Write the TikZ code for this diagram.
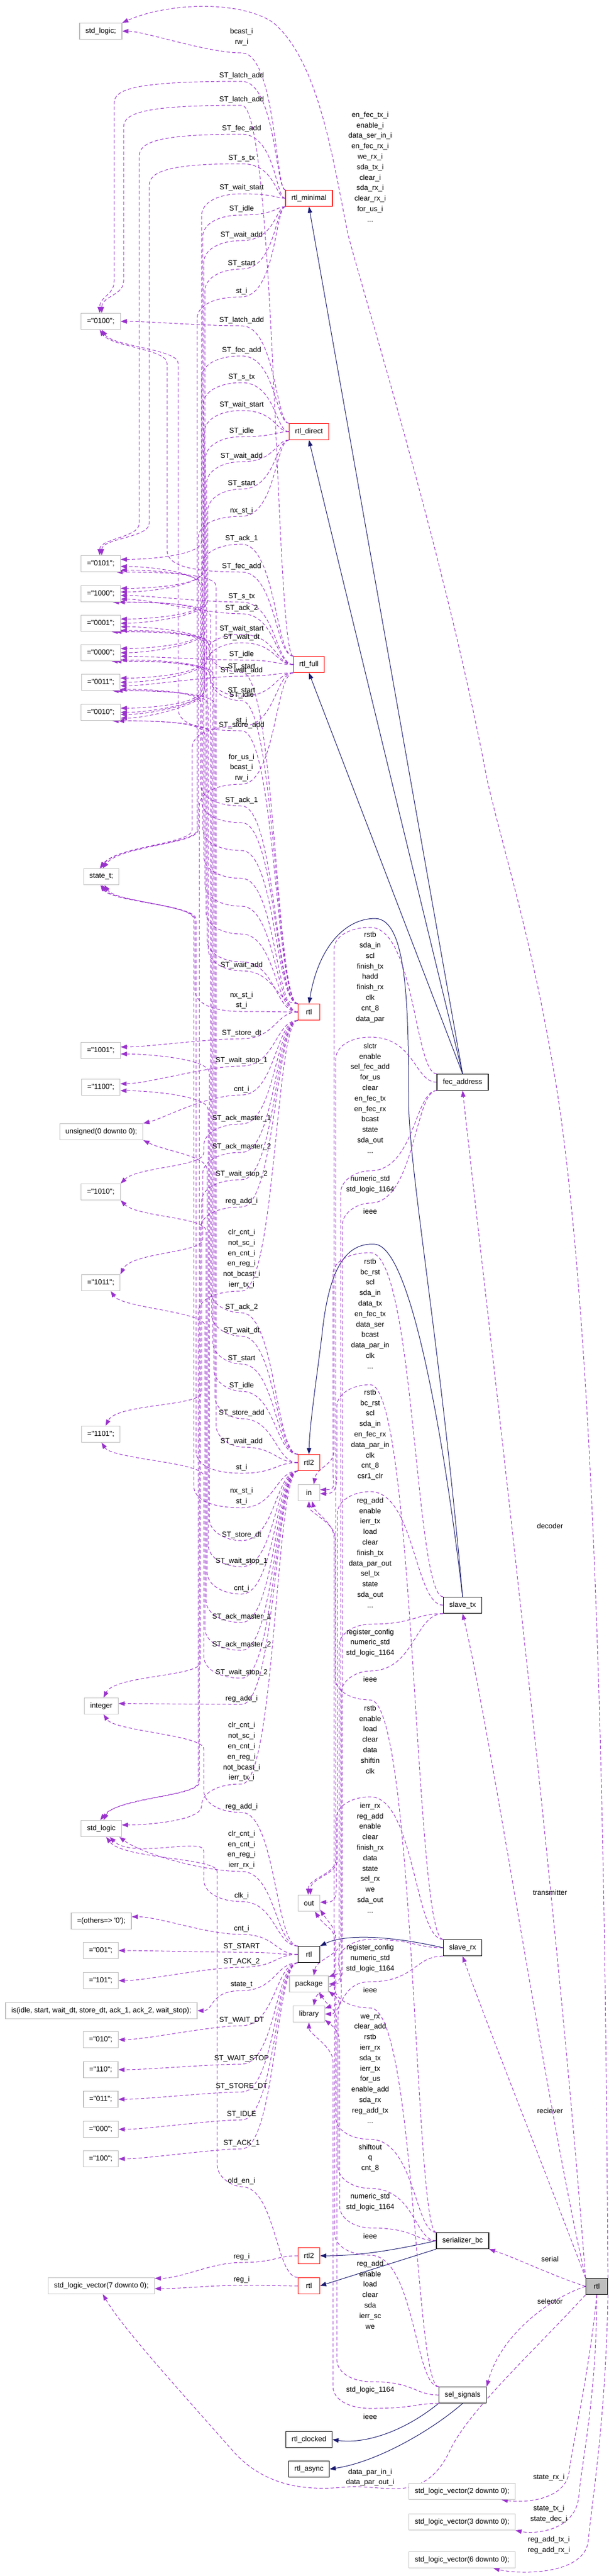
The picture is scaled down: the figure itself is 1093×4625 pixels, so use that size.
\documentclass[tikz,border=0pt]{standalone}
\usepackage{fontspec}
\newfontfamily\dfont{Liberation Sans}
\usetikzlibrary{arrows.meta,calc}
\definecolor{dpurple}{RGB}{154,50,205}
\definecolor{dnavy}{RGB}{25,25,112}
\definecolor{boxgrey}{RGB}{191,191,191}
\pgfdeclarelayer{bg}
\pgfsetlayers{bg,main}
\newcommand\boxfont{\dfont\fontsize{13pt}{15pt}\selectfont}
\newcommand\lblfont{\dfont\fontsize{13pt}{18.8pt}\selectfont}
\tikzset{
  nbox/.style={line width=1.2pt, minimum height=29pt, minimum width=39pt, inner xsep=10.5pt, inner ysep=0pt, font=\boxfont, fill=white},
  gbox/.style={nbox, draw=boxgrey},
  rbox/.style={nbox, draw=red},
  kbox/.style={nbox, draw=black},
  fbox/.style={nbox, draw=black, fill=boxgrey},
  dep/.style={draw=dpurple, line width=1pt, dash pattern=on 6pt off 4pt, -{Triangle[length=11pt,width=8pt]}},
  inh/.style={draw=dnavy, line width=1pt, -{Triangle[length=11pt,width=8pt]}},
  lbl/.style={font=\lblfont, align=center, inner sep=0pt},
}
% left edge: source, capY, bundle x, target, target y, approach
\newcommand\ledge[6]{%
  \pgfmathsetmacro\edgA{abs(#5-#2)}%
  \ifdim\edgA pt<80pt
    \draw[dep] (#1) .. controls (#1 -| lx) and (495,#2) .. (434,#2) .. controls (#3,#2) and ($(#4)+(#6)$) .. (#4);%
  \else
    \pgfmathsetmacro\edgS{(#5>#2)?1:-1}%
    \pgfmathsetmacro\edgYa{#2+\edgS*40}%
    \pgfmathsetmacro\edgYb{#5-\edgS*40}%
    \pgfmathsetmacro\edgYaa{#2+\edgS*15}%
    \pgfmathsetmacro\edgYbb{#5-\edgS*15}%
    \draw[dep] (#1) .. controls (#1 -| lx) and (495,#2) .. (434,#2) .. controls (#3+30,#2) and (#3,\edgYaa) .. (#3,\edgYa) -- (#3,\edgYb) .. controls (#3,\edgYbb) and ($(#4)+(#6)$) .. (#4);%
  \fi}
\newcommand\redge[6]{%
  \pgfmathsetmacro\edgA{abs(#5-#2)}%
  \ifdim\edgA pt<80pt
    \draw[dep] (#1) .. controls (#1 -| rx) and (745,#2) .. (665,#2) .. controls (#3,#2) and ($(#4)+(#6)$) .. (#4);%
  \else
    \pgfmathsetmacro\edgS{(#5>#2)?1:-1}%
    \pgfmathsetmacro\edgYa{#2+\edgS*40}%
    \pgfmathsetmacro\edgYb{#5-\edgS*40}%
    \pgfmathsetmacro\edgYaa{#2+\edgS*15}%
    \pgfmathsetmacro\edgYbb{#5-\edgS*15}%
    \draw[dep] (#1) .. controls (#1 -| rx) and (745,#2) .. (665,#2) .. controls (#3+30,#2) and (#3,\edgYaa) .. (#3,\edgYa) -- (#3,\edgYb) .. controls (#3,\edgYbb) and ($(#4)+(#6)$) .. (#4);%
  \fi}
\begin{document}
\begin{tikzpicture}[x=1pt,y=-1pt]
\useasboundingbox (0,0) rectangle (1093,4625);
\coordinate (lx) at (495,0);
\coordinate (rx) at (745,0);
% ---------- left column ----------
\node[gbox] (stdlogicA) at (181,56) {std\_logic;};
\node[gbox] (c0100) at (181,577) {="0100";};
\node[gbox] (c0101) at (181,1012) {="0101";};
\node[gbox] (c1000) at (181,1066) {="1000";};
\node[gbox] (c0001) at (181,1119) {="0001";};
\node[gbox] (c0000) at (181,1172) {="0000";};
\node[gbox] (c0011) at (181,1225) {="0011";};
\node[gbox] (c0010) at (181,1279) {="0010";};
\node[gbox] (statet) at (182,1574) {state\_t;};
\node[gbox] (c1001) at (181,1886) {="1001";};
\node[gbox] (c1100) at (181,1952) {="1100";};
\node[gbox] (unsig) at (182,2032) {unsigned(0 downto 0);};
\node[gbox] (c1010) at (181,2140) {="1010";};
\node[gbox] (c1011) at (181,2303) {="1011";};
\node[gbox] (c1101) at (181,2575) {="1101";};
\node[gbox] (integer) at (182,3063) {integer};
\node[gbox] (stdlogic) at (182,3283) {std\_logic};
\node[gbox] (others) at (182,3449) {=(others=> '0');};
\node[gbox] (c001) at (181,3502) {="001";};
\node[gbox] (c101) at (181,3556) {="101";};
\node[gbox] (isnode) at (182,3610) {is(idle, start, wait\_dt, store\_dt, ack\_1, ack\_2, wait\_stop);};
\node[gbox] (c010) at (181,3662) {="010";};
\node[gbox] (c110) at (181,3716) {="110";};
\node[gbox] (c011) at (181,3769) {="011";};
\node[gbox] (c000) at (181,3823) {="000";};
\node[gbox] (c100) at (181,3876) {="100";};
\node[gbox] (slv7) at (182,4104) {std\_logic\_vector(7 downto 0);};
% ---------- middle column ----------
\node[rbox] (rtlmin) at (555,356) {rtl\_minimal};
\node[rbox] (rtldir) at (555,775) {rtl\_direct};
\node[rbox] (rtlfull) at (555,1193) {rtl\_full};
\node[rbox] (rtlA) at (555,1817) {rtl};
\node[rbox] (rtl2A) at (555,2626) {rtl2};
\node[gbox] (innode) at (555,2680) {in};
\node[gbox] (outnode) at (555,3417) {out};
\node[kbox] (rtlB) at (555,3509) {rtl};
\node[gbox] (package) at (555,3562) {package};
\node[gbox] (library) at (555,3616) {library};
\node[rbox] (rtl2B) at (555,4050) {rtl2};
\node[rbox] (rtlC) at (555,4104) {rtl};
\node[kbox] (rtlclk) at (555,4380) {rtl\_clocked};
\node[kbox] (rtlasync) at (555,4433) {rtl\_async};
% ---------- right column ----------
\node[kbox] (fec) at (831,1943) {fec\_address};
\node[kbox] (stx) at (831,2882) {slave\_tx};
\node[kbox] (srx) at (831,3497) {slave\_rx};
\node[kbox] (ser) at (831,4023) {serializer\_bc};
\node[kbox] (sel) at (831,4300) {sel\_signals};
\node[gbox] (slv2) at (830,4473) {std\_logic\_vector(2 downto 0);};
\node[gbox] (slv3) at (830,4528) {std\_logic\_vector(3 downto 0);};
\node[gbox] (slv6) at (830,4596) {std\_logic\_vector(6 downto 0);};
\node[fbox] (rtlF) at (1072,4105) {rtl};
% ---------- left labels ----------
\node[lbl] (l1) at (434,66.5) {bcast\_i\\rw\_i};
\node[lbl] (l2) at (434,136) {ST\_latch\_add};
\node[lbl] (l3) at (434,179) {ST\_latch\_add};
\node[lbl] (l4) at (434,231) {ST\_fec\_add};
\node[lbl] (l5) at (434,284) {ST\_s\_tx};
\node[lbl] (l6) at (434,337) {ST\_wait\_start};
\node[lbl] (l7) at (434,375) {ST\_idle};
\node[lbl] (l8) at (434,422) {ST\_wait\_add};
\node[lbl] (l9) at (434,473) {ST\_start};
\node[lbl] (l10) at (434,523) {st\_i};
\node[lbl] (l11) at (434,575) {ST\_latch\_add};
\node[lbl] (l12) at (434,629) {ST\_fec\_add};
\node[lbl] (l13) at (434,677) {ST\_s\_tx};
\node[lbl] (l14) at (434,727) {ST\_wait\_start};
\node[lbl] (l15) at (434,774) {ST\_idle};
\node[lbl] (l16) at (434,819) {ST\_wait\_add};
\node[lbl] (l17) at (434,868) {ST\_start};
\node[lbl] (l18) at (434,917) {nx\_st\_i};
\node[lbl] (l19) at (434,967) {ST\_ack\_1};
\node[lbl] (l20) at (434,1017) {ST\_fec\_add};
\node[lbl] (l21) at (434,1071) {ST\_s\_tx};
\node[lbl] (l22) at (434,1092) {ST\_ack\_2};
\node[lbl] (l23) at (434,1129) {ST\_wait\_start};
\node[lbl] (l24) at (434,1144) {ST\_wait\_dt};
\node[lbl] (l25) at (434,1175) {ST\_idle};
\node[lbl] (l26) at (434,1197) {ST\_start};
\node[lbl] (l27) at (434,1204) {ST\_wait\_add};
\node[lbl] (l28) at (434,1240) {ST\_start};
\node[lbl] (l29) at (434,1248) {ST\_idle};
\node[lbl] (l30) at (434,1294) {st\_i};
\node[lbl] (l31) at (434,1302) {ST\_store\_add};
\node[lbl] (l32) at (434,1378.5) {for\_us\_i\\bcast\_i\\rw\_i};
\node[lbl] (l33) at (434,1437) {ST\_ack\_1};
\node[lbl] (l34) at (434,1733) {ST\_wait\_add};
\node[lbl] (l35) at (434,1796) {nx\_st\_i\\st\_i};
\node[lbl] (l36) at (434,1855) {ST\_store\_dt};
\node[lbl] (l37) at (434,1904) {ST\_wait\_stop\_1};
\node[lbl] (l38) at (434,1956) {cnt\_i};
\node[lbl] (l39) at (434,2008) {ST\_ack\_master\_1};
\node[lbl] (l40) at (434,2059) {ST\_ack\_master\_2};
\node[lbl] (l41) at (434,2108) {ST\_wait\_stop\_2};
\node[lbl] (l42) at (434,2157) {reg\_add\_i};
\node[lbl] (l43) at (434,2260) {clr\_cnt\_i\\not\_sc\_i\\en\_cnt\_i\\en\_reg\_i\\not\_bcast\_i\\ierr\_tx\_i};
\node[lbl] (l44) at (434,2347) {ST\_ack\_2};
\node[lbl] (l45) at (434,2389) {ST\_wait\_dt};
\node[lbl] (l46) at (434,2439) {ST\_start};
\node[lbl] (l47) at (434,2488) {ST\_idle};
\node[lbl] (l48) at (434,2537) {ST\_store\_add};
\node[lbl] (l49) at (434,2588) {ST\_wait\_add};
\node[lbl] (l50) at (434,2635) {st\_i};
\node[lbl] (l51) at (434,2686.5) {nx\_st\_i\\st\_i};
\node[lbl] (l52) at (434,2756) {ST\_store\_dt};
\node[lbl] (l53) at (434,2803) {ST\_wait\_stop\_1};
\node[lbl] (l54) at (434,2852) {cnt\_i};
\node[lbl] (l55) at (434,2903) {ST\_ack\_master\_1};
\node[lbl] (l56) at (434,2953) {ST\_ack\_master\_2};
\node[lbl] (l57) at (434,3003) {ST\_wait\_stop\_2};
\node[lbl] (l58) at (434,3050) {reg\_add\_i};
\node[lbl] (l59) at (434,3145.5) {clr\_cnt\_i\\not\_sc\_i\\en\_cnt\_i\\en\_reg\_i\\not\_bcast\_i\\ierr\_tx\_i};
\node[lbl] (l60) at (434,3244) {reg\_add\_i};
\node[lbl] (l61) at (434,3321) {clr\_cnt\_i\\en\_cnt\_i\\en\_reg\_i\\ierr\_rx\_i};
\node[lbl] (l62) at (434,3404) {clk\_i};
\node[lbl] (l63) at (434,3463) {cnt\_i};
\node[lbl] (l64) at (434,3495) {ST\_START};
\node[lbl] (l65) at (434,3522) {ST\_ACK\_2};
\node[lbl] (l66) at (434,3564) {state\_t};
\node[lbl] (l67) at (434,3627) {ST\_WAIT\_DT};
\node[lbl] (l68) at (434,3696) {ST\_WAIT\_STOP};
\node[lbl] (l69) at (434,3746) {ST\_STORE\_DT};
\node[lbl] (l70) at (434,3796) {ST\_IDLE};
\node[lbl] (l71) at (434,3848) {ST\_ACK\_1};
\node[lbl] (l72) at (434,3916) {old\_en\_i};
\node[lbl] (l73) at (434,4052) {reg\_i};
\node[lbl] (l74) at (434,4093) {reg\_i};
% ---------- right labels ----------
\node[lbl] (d6) at (665,299.5) {en\_fec\_tx\_i\\enable\_i\\data\_ser\_in\_i\\en\_fec\_rx\_i\\we\_rx\_i\\sda\_tx\_i\\clear\_i\\sda\_rx\_i\\clear\_rx\_i\\for\_us\_i\\...};
\node[lbl] (r1) at (665,1754.5) {rstb\\sda\_in\\scl\\finish\_tx\\hadd\\finish\_rx\\clk\\cnt\_8\\data\_par};
\node[lbl] (r2) at (665,1971.5) {slctr\\enable\\sel\_fec\_add\\for\_us\\clear\\en\_fec\_tx\\en\_fec\_rx\\bcast\\state\\sda\_out\\...};
\node[lbl] (r3) at (665,2126.5) {numeric\_std\\std\_logic\_1164};
\node[lbl] (r4) at (665,2175) {ieee};
\node[lbl] (r5) at (665,2358.5) {rstb\\bc\_rst\\scl\\sda\_in\\data\_tx\\en\_fec\_tx\\data\_ser\\bcast\\data\_par\_in\\clk\\...};
\node[lbl] (r6) at (665,2576) {rstb\\bc\_rst\\scl\\sda\_in\\en\_fec\_rx\\data\_par\_in\\clk\\cnt\_8\\csr1\_clr};
\node[lbl] (r7) at (665,2787.5) {reg\_add\\enable\\ierr\_tx\\load\\clear\\finish\_tx\\data\_par\_out\\sel\_tx\\state\\sda\_out\\...};
\node[lbl] (r8) at (665,2949.5) {register\_config\\numeric\_std\\std\_logic\_1164};
\node[lbl] (r9) at (665,3015) {ieee};
\node[lbl] (r10) at (665,3123) {rstb\\enable\\load\\clear\\data\\shiftin\\clk};
\node[lbl] (r11) at (665,3335.5) {ierr\_rx\\reg\_add\\enable\\clear\\finish\_rx\\data\\state\\sel\_rx\\we\\sda\_out\\...};
\node[lbl] (r12) at (665,3516) {register\_config\\numeric\_std\\std\_logic\_1164};
\node[lbl] (r13) at (665,3573) {ieee};
\node[lbl] (r14) at (665,3714.5) {we\_rx\\clear\_add\\rstb\\ierr\_rx\\sda\_tx\\ierr\_tx\\for\_us\\enable\_add\\sda\_rx\\reg\_add\_tx\\...};
\node[lbl] (r15) at (665,3874.5) {shiftout\\q\\cnt\_8};
\node[lbl] (r16) at (665,3953.5) {numeric\_std\\std\_logic\_1164};
\node[lbl] (r17) at (665,4015) {ieee};
\node[lbl] (r18) at (665,4120) {reg\_add\\enable\\load\\clear\\sda\\ierr\_sc\\we};
\node[lbl] (r19) at (665,4291) {std\_logic\_1164};
\node[lbl] (r20) at (665,4339) {ieee};
\node[lbl] (d10) at (665,4448) {data\_par\_in\_i\\data\_par\_out\_i};
\node[lbl] (d1) at (988,2740) {decoder};
\node[lbl] (d2) at (988,3398) {transmitter};
\node[lbl] (d3) at (988,3790) {reciever};
\node[lbl] (d4) at (988,4056) {serial};
\node[lbl] (d5) at (988,4132) {selector};
\node[lbl] (d7) at (986,4448) {state\_rx\_i};
\node[lbl] (d8) at (986,4513.5) {state\_tx\_i\\state\_dec\_i};
\node[lbl] (d9) at (986,4569.5) {reg\_add\_tx\_i\\reg\_add\_rx\_i};
% ---------- edges ----------
\begin{pgfonlayer}{bg}
% navy
\draw[inh] (fec.north) -- (rtlmin.south);
\draw[inh] (fec.north) -- (rtldir.south);
\draw[inh] (fec.north) -- (rtlfull.south);
\draw[inh] (stx.north) .. controls (790,2400) and (734,2100) .. (734,1973) .. controls (734,1800) and (730,1650) .. (674,1649) .. controls (620,1649) and (572,1700) .. (rtlA.north);
\draw[inh] (stx.north) .. controls (800,2600) and (740,2240) .. (674,2234) .. controls (620,2230) and (590,2280) .. (578,2400) .. controls (568,2480) and (556,2560) .. (rtl2A.north);
\draw[inh] (srx.west) .. controls (700,3475) and (620,3472) .. (rtlB.north east);
\draw[inh] (ser.west) .. controls (700,4042) and (640,4050) .. (rtl2B.east);
\draw[inh] (ser.south west) -- (rtlC.east);
\draw[inh] (sel.south west) .. controls (720,4370) and (650,4388) .. (rtlclk.east);
\draw[inh] (sel.south) .. controls (780,4360) and (680,4420) .. (rtlasync.east);
% from focus rtl
\draw[dep] (rtlF.north west) .. controls (1000,3400) and (880,2400) .. (fec.south);
\draw[dep] (rtlF.north west) .. controls (985,3800) and (880,3100) .. (stx.south);
\draw[dep] (rtlF.north west) .. controls (1000,3950) and (880,3650) .. (srx.south);
\draw[dep] (rtlF.west) .. controls (990,4085) and (930,4055) .. (ser.south east);
\draw[dep] (rtlF.west) .. controls (990,4125) and (900,4190) .. (sel.north east);
\draw[dep] (rtlF.north east) .. controls (1088,3500) and (1080,2500) .. (1003,1973) .. controls (960,1700) and (910,1550) .. (875,1400) .. controls (800,1000) and (650,520) .. (625,420) .. controls (600,300) and (575,110) .. (490,40) .. controls (430,0) and (300,5) .. (stdlogicA.north east);
\draw[dep] (rtlF.south) .. controls (1060,4250) and (1030,4380) .. (1022,4440) .. controls (1015,4485) and (950,4495) .. (slv2.-12);
\draw[dep] (rtlF.south) .. controls (1072,4300) and (1045,4420) .. (1040,4480) .. controls (1035,4545) and (960,4550) .. (slv3.south east);
\draw[dep] (rtlF.south east) .. controls (1088,4350) and (1062,4500) .. (1057,4560) .. controls (1052,4625) and (930,4622) .. (slv6.-15);
\draw[dep] (rtlF.south west) .. controls (960,4220) and (840,4330) .. (808,4400) .. controls (780,4460) and (740,4468) .. (711,4468) .. controls (670,4468) and (650,4462) .. (613,4466) .. controls (560,4470) and (480,4470) .. (418,4400) .. controls (330,4300) and (220,4180) .. (slv7.-80);
% left edges
\ledge{rtlmin.north west}{95}{372}{stdlogicA.east}{56}{40,0}
\ledge{rtlmin.north west}{146}{205}{c0100.97}{545}{0,-30}
\ledge{rtlfull.north west}{189}{222}{c0100.83}{545}{0,-30}
\ledge{rtlmin.west}{241}{250}{c0101.97}{980}{0,-30}
\ledge{rtlmin.west}{294}{268}{c0101.83}{980}{0,-30}
\ledge{rtlmin.west}{348}{362}{c0010.12}{1279}{50,0}
\ledge{rtlmin.south west}{386}{364}{c0000.12}{1172}{50,0}
\ledge{rtlmin.south west}{432}{366}{c0011.12}{1225}{50,0}
\ledge{rtlmin.south west}{483}{368}{c0001.12}{1119}{50,0}
\ledge{rtlmin.south west}{533}{354}{statet.100}{1530}{30,-40}
\ledge{rtldir.north west}{585}{366}{c0100.0}{577}{50,0}
\ledge{rtldir.north west}{639}{362}{c0101.12}{1012}{50,0}
\ledge{rtldir.west}{687}{365}{c1000.15}{1066}{50,0}
\ledge{rtldir.west}{737}{367}{c0010.0}{1279}{50,0}
\ledge{rtldir.west}{784}{369}{c0000.0}{1172}{50,0}
\ledge{rtldir.south west}{829}{371}{c0011.0}{1225}{50,0}
\ledge{rtldir.south west}{878}{373}{c0001.0}{1119}{50,0}
\ledge{rtldir.south west}{927}{356}{statet.80}{1530}{30,-40}
\ledge{rtlfull.north west}{977}{363}{c1000.5}{1066}{50,0}
\ledge{rtlfull.north west}{1027}{300}{c0100.-97}{612}{20,30}
\ledge{rtlfull.west}{1081}{366}{c1000.-5}{1066}{50,0}
\ledge{rtlfull.west}{1102}{369}{c1000.-15}{1066}{50,0}
\ledge{rtlfull.west}{1139}{367}{c0010.-6}{1279}{50,0}
\ledge{rtlfull.west}{1154}{370}{c0010.-16}{1279}{50,0}
\ledge{rtlfull.west}{1185}{372}{c0000.-10}{1172}{50,0}
\ledge{rtlA.north west}{1207}{375}{c0001.-10}{1119}{50,0}
\ledge{rtlfull.south west}{1214}{373}{c0011.-10}{1225}{50,0}
\ledge{rtlfull.south west}{1250}{376}{c0001.-20}{1119}{50,0}
\ledge{rtlA.north west}{1258}{378}{c0000.-20}{1172}{50,0}
\ledge{rtlfull.south west}{1304}{345}{statet.95}{1530}{30,-40}
\ledge{rtlA.north west}{1312}{320}{c0100.-83}{612}{20,30}
\ledge{rtlfull.south west}{1408}{358}{stdlogic.97}{3240}{30,-40}
\ledge{rtlA.north west}{1447}{360}{c0101.-8}{1012}{50,0}
\ledge{rtlA.north west}{1477}{362}{c0011.-20}{1225}{50,0}
\ledge{rtlA.north west}{1527}{364}{c0101.-18}{1012}{50,0}
\ledge{rtlA.west}{1577}{366}{c1000.-25}{1066}{50,0}
\ledge{rtlA.west}{1627}{368}{c0010.-26}{1279}{50,0}
\ledge{rtlA.west}{1677}{370}{c0001.-30}{1119}{50,0}
\ledge{rtlA.west}{1727}{372}{c0000.-30}{1172}{50,0}
\ledge{rtlA.north west}{1743}{374}{c0011.-28}{1225}{50,0}
\ledge{rtlA.west}{1816}{350}{statet.-95}{1610}{20,30}
\ledge{rtlA.west}{1865}{372}{c1001.10}{1886}{50,0}
\ledge{rtlA.south west}{1914}{370}{c1100.10}{1952}{50,0}
\ledge{rtlA.south west}{1966}{368}{unsig.north east}{2032}{40,-10}
\ledge{rtlA.south west}{2018}{366}{c1010.north east}{2110}{30,-30}
\ledge{rtlA.south west}{2069}{364}{c1011.north east}{2265}{20,-40}
\ledge{rtlA.south west}{2118}{362}{c1101.60}{2540}{20,-40}
\ledge{rtlA.south west}{2167}{360}{integer.75}{3025}{20,-40}
\ledge{rtlA.south west}{2318}{356}{stdlogic.75}{3240}{20,-40}
\ledge{rtl2A.north west}{2357}{378}{c1000.-35}{1066}{50,0}
\ledge{rtl2A.north west}{2399}{380}{c0010.-36}{1279}{50,0}
\ledge{rtl2A.north west}{2449}{382}{c0001.-38}{1119}{50,0}
\ledge{rtl2A.north west}{2498}{384}{c0000.-38}{1172}{50,0}
\ledge{rtl2A.west}{2547}{386}{c0011.-36}{1225}{50,0}
\ledge{rtl2A.west}{2598}{388}{c0101.-28}{1012}{50,0}
\ledge{rtl2A.west}{2645}{352}{statet.-85}{1610}{20,30}
\ledge{rtl2A.south west}{2707}{348}{statet.-70}{1610}{20,30}
\ledge{rtl2A.south west}{2766}{376}{c1001.-10}{1886}{50,0}
\ledge{rtl2A.south west}{2813}{374}{c1100.-10}{1952}{50,0}
\ledge{rtl2A.south west}{2862}{372}{unsig.south east}{2060}{40,20}
\ledge{rtl2A.south west}{2913}{370}{c1010.south east}{2170}{30,30}
\ledge{rtl2A.south west}{2963}{368}{c1011.-40}{2340}{20,30}
\ledge{rtl2A.south west}{3013}{366}{c1101.-85}{2610}{20,30}
\ledge{rtl2A.south west}{3060}{364}{integer.8}{3063}{50,0}
\ledge{rtl2A.south west}{3203}{362}{stdlogic.10}{3283}{50,0}
\ledge{rtlB.north west}{3254}{366}{integer.-75}{3100}{20,30}
\ledge{rtlB.north west}{3360}{364}{stdlogic.-25}{3283}{40,30}
\ledge{rtlB.north west}{3414}{366}{stdlogic.-45}{3283}{40,40}
\ledge{rtlB.west}{3473}{370}{others.8}{3449}{50,0}
\ledge{rtlB.west}{3505}{372}{c001.0}{3502}{50,0}
\ledge{rtlB.west}{3532}{374}{c101.0}{3556}{50,0}
\ledge{rtlB.south west}{3574}{376}{isnode.0}{3610}{30,0}
\ledge{rtlB.south west}{3637}{378}{c010.0}{3662}{50,0}
\ledge{rtlB.south west}{3706}{380}{c110.0}{3716}{50,0}
\ledge{rtlB.south west}{3756}{382}{c011.0}{3769}{50,0}
\ledge{rtlB.south west}{3806}{384}{c000.0}{3823}{50,0}
\ledge{rtlB.south west}{3858}{386}{c100.0}{3876}{50,0}
\ledge{rtlC.north west}{3926}{390}{stdlogic.-60}{3320}{30,40}
\ledge{rtl2B.west}{4062}{380}{slv7.8}{4104}{50,0}
\ledge{rtlC.west}{4103}{380}{slv7.-3}{4104}{50,0}
% right edges
\redge{fec.north west}{1665}{600}{innode.60}{2645}{5,-30}
\redge{fec.west}{1862}{603}{outnode.95}{3380}{0,-30}
\redge{fec.south west}{2102}{612}{package.60}{3525}{5,-30}
\redge{fec.south west}{2160}{615}{library.60}{3580}{5,-30}
\redge{stx.north west}{2249}{598}{innode.15}{2680}{30,0}
\redge{srx.north west}{2486}{605}{innode.-5}{2680}{30,0}
\redge{stx.west}{2678}{606}{outnode.80}{3380}{0,-30}
\redge{stx.south west}{2916}{609}{package.20}{3562}{30,-10}
\redge{stx.south west}{3000}{613}{library.20}{3616}{30,-10}
\redge{ser.north west}{3052}{602}{innode.-90}{2720}{0,20}
\redge{srx.north west}{3226}{604}{outnode.5}{3417}{30,0}
\redge{srx.west}{3482}{608}{package.0}{3562}{30,0}
\redge{srx.south west}{3558}{611}{library.0}{3616}{30,0}
\redge{sel.north west}{3605}{600}{innode.-70}{2720}{5,20}
\redge{ser.north west}{3841}{603}{outnode.-30}{3445}{20,30}
\redge{ser.west}{3929}{607}{package.-20}{3585}{25,20}
\redge{ser.west}{4000}{610}{library.-20}{3640}{25,20}
\redge{sel.north west}{4049}{601}{outnode.-55}{3445}{20,30}
\redge{sel.west}{4276}{605}{package.-40}{3590}{20,30}
\redge{sel.south west}{4324}{598}{library.-90}{3660}{0,20}
\end{pgfonlayer}
\end{tikzpicture}
\end{document}
